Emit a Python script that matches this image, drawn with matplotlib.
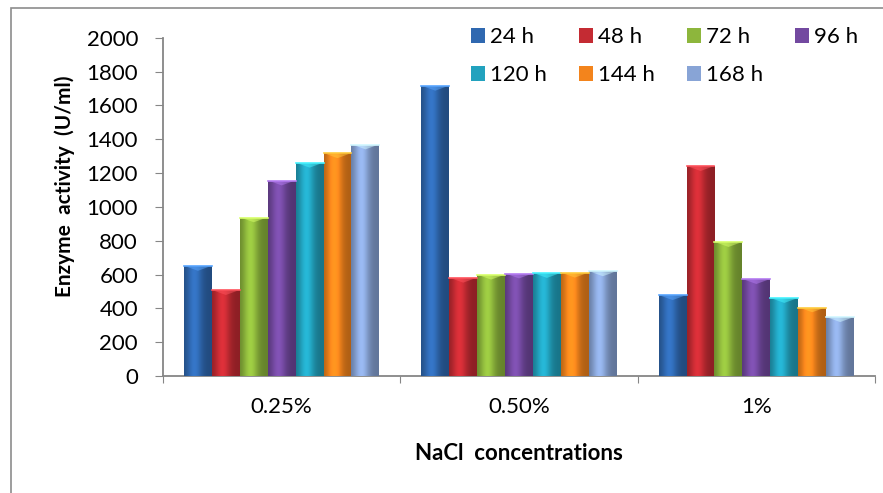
import numpy as np
import matplotlib
matplotlib.use("Agg")
import matplotlib.pyplot as plt
from matplotlib.patches import Rectangle
from matplotlib.colors import to_rgb

plt.rcParams['font.family'] = ['Lato', 'DejaVu Sans']

# data
concentrations = ['0.25%', '0.50%', '1%']
times = ['24 h', '48 h', '72 h', '96 h', '120 h', '144 h', '168 h']
act_24 = [650, 1715, 477]
act_48 = [507, 580, 1240]
act_72 = [937, 598, 791]
act_96 = [1155, 605, 572]
act_120 = [1260, 608, 460]
act_144 = [1316, 610, 405]
act_168 = [1368, 618, 347]
series = [act_24, act_48, act_72, act_96, act_120, act_144, act_168]
colors = ['#2f68b0', '#c42b33', '#8db63c', '#7349a0', '#22a2be', '#f3841c', '#88a4d6']

fig = plt.figure(figsize=(8.83, 4.93), dpi=100)
ax = fig.add_axes([0.1846, 0.2373, 0.8064, 0.6862])

x = np.arange(len(concentrations))
w = 1 / 8.5

# horizontal shading so the bars look a bit rounded
prof = np.linspace(-1, 1, 64)
shade = 0.72 + 0.42 * np.exp(-((prof + 0.25) / 0.55) ** 2)

handles = []
for i, (vals, c) in enumerate(zip(series, colors)):
    pos = x + (i - 3) * w
    bars = ax.bar(pos, vals, width=w, color=c, edgecolor='none', zorder=2)
    rgb = np.array(to_rgb(c))
    img = np.clip(shade[None, :, None] * rgb[None, None, :], 0, 1)
    top = np.clip(rgb * 1.35 + 0.1, 0, 1)
    for b in bars:
        bx, by = b.get_x(), b.get_y()
        bw, bh = b.get_width(), b.get_height()
        im = ax.imshow(img, extent=[bx, bx + bw, by, by + bh], aspect='auto',
                       zorder=3, interpolation='bilinear')
        im.set_clip_path(b)
        # light cap at the top of each bar
        ax.fill([bx + bw * 0.1, bx + bw * 0.9, bx + bw * 0.5],
                [by + bh - 4, by + bh - 4, by + bh - 28],
                color=top, alpha=0.5, lw=0, zorder=4)
        ax.plot([bx, bx + bw], [by + bh, by + bh], color=top, lw=1.2, zorder=4)
    handles.append(bars)

ax.set_xlim(-0.5, 2.5)
ax.set_ylim(0, 2000)
ax.set_yticks(np.arange(0, 2001, 200))
ax.set_xticks([-0.5, 0.5, 1.5, 2.5])
ax.set_xticklabels([])
ax.set_xticks(x, minor=True)
ax.set_xticklabels(concentrations, minor=True)
ax.tick_params(axis='x', which='minor', length=0, pad=15, labelsize=16)
ax.tick_params(axis='x', which='major', length=5, direction='out', color='#868686')
ax.tick_params(axis='y', length=6, direction='out', color='#868686', pad=12, labelsize=16)

for s in ['top', 'right']:
    ax.spines[s].set_visible(False)
for s in ['left', 'bottom']:
    ax.spines[s].set_color('#868686')
    ax.spines[s].set_linewidth(1.3)

ax.set_ylabel('Enzyme  activity  (U/ml)', fontsize=15, fontweight='bold', va='center')
ax.yaxis.set_label_coords(-0.138, 0.56)
ax.set_xlabel('NaCl  concentrations', fontsize=16, fontweight='bold', va='center')
ax.xaxis.set_label_coords(0.5, -0.228)

# legend laid out row by row (matplotlib fills columns first)
order = [0, 4, 1, 5, 2, 6, 3]
fig.legend([handles[k] for k in order], [times[k] for k in order], ncol=4,
           loc='upper left', bbox_to_anchor=(0.523, 0.963), frameon=False,
           fontsize=16, handlelength=0.65, handleheight=0.65, handletextpad=0.2,
           columnspacing=1.45, labelspacing=0.8, borderaxespad=0)

# outer frame, cut off at right and bottom like the reference
fig.patches.append(Rectangle((11 / 883, -0.1), 1.2, 1.1 - 8 / 493, transform=fig.transFigure,
                             fill=False, edgecolor='#8c8c8c', lw=1.2))

fig.savefig('out.png', dpi=100)
